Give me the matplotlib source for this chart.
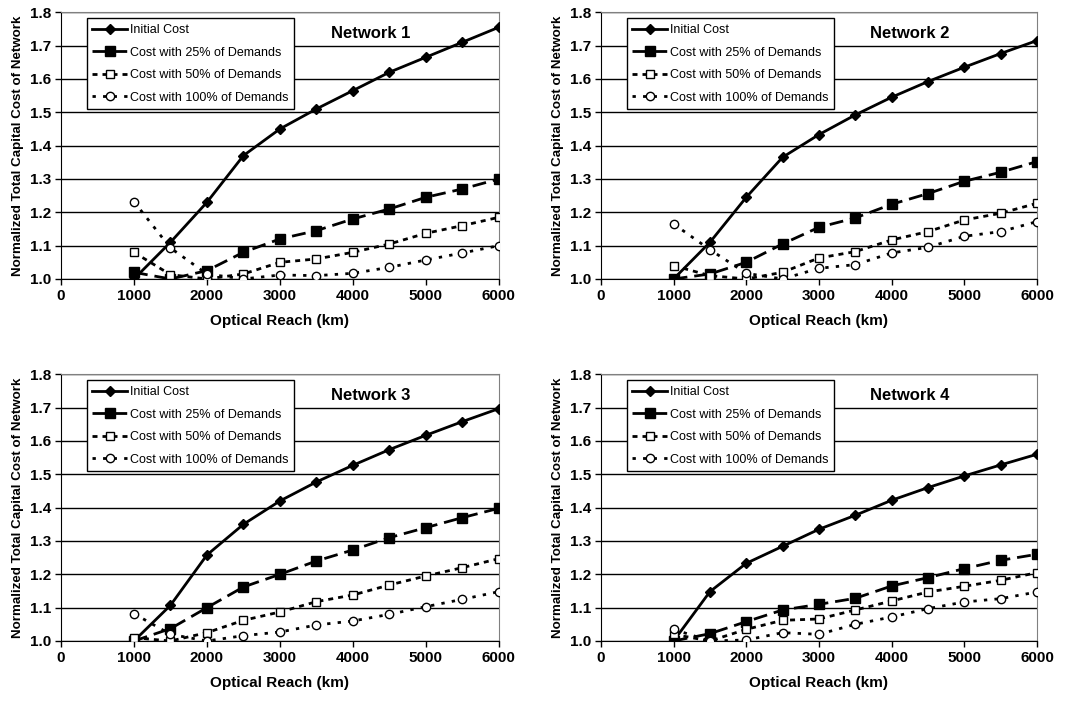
import numpy as np
import matplotlib
matplotlib.use("Agg")
from matplotlib import pyplot as plt

plt.rcParams['font.family'] = ['Liberation Sans', 'DejaVu Sans']

reach = [1000, 1500, 2000, 2500, 3000, 3500, 4000, 4500, 5000, 5500, 6000]
series_names = ["Initial Cost", "Cost with 25% of Demands",
                "Cost with 50% of Demands", "Cost with 100% of Demands"]
titles = ["Network 1", "Network 2", "Network 3", "Network 4"]

net1_initial = [1.00, 1.11, 1.23, 1.37, 1.45, 1.51, 1.565, 1.62, 1.665, 1.71, 1.755]
net1_d25 = [1.02, 1.00, 1.025, 1.08, 1.12, 1.145, 1.18, 1.21, 1.245, 1.27, 1.30]
net1_d50 = [1.08, 1.013, 1.00, 1.015, 1.05, 1.06, 1.08, 1.105, 1.137, 1.16, 1.185]
net1_d100 = [1.232, 1.093, 1.015, 1.00, 1.012, 1.01, 1.017, 1.035, 1.057, 1.078, 1.10]

net2_initial = [1.00, 1.11, 1.245, 1.365, 1.433, 1.492, 1.545, 1.592, 1.635, 1.676, 1.715]
net2_d25 = [1.00, 1.015, 1.05, 1.105, 1.155, 1.183, 1.224, 1.256, 1.293, 1.32, 1.352]
net2_d50 = [1.04, 1.01, 1.00, 1.02, 1.063, 1.082, 1.117, 1.142, 1.177, 1.197, 1.227]
net2_d100 = [1.165, 1.088, 1.017, 1.00, 1.032, 1.043, 1.078, 1.095, 1.128, 1.142, 1.172]

net3_initial = [1.00, 1.107, 1.258, 1.35, 1.42, 1.477, 1.527, 1.574, 1.617, 1.658, 1.697]
net3_d25 = [1.00, 1.037, 1.10, 1.162, 1.20, 1.24, 1.273, 1.31, 1.34, 1.37, 1.398]
net3_d50 = [1.01, 1.00, 1.025, 1.062, 1.087, 1.118, 1.138, 1.168, 1.195, 1.22, 1.247]
net3_d100 = [1.082, 1.02, 1.00, 1.016, 1.027, 1.048, 1.06, 1.08, 1.103, 1.125, 1.148]

net4_initial = [1.00, 1.148, 1.233, 1.284, 1.335, 1.377, 1.422, 1.46, 1.495, 1.528, 1.56]
net4_d25 = [1.00, 1.022, 1.058, 1.093, 1.11, 1.128, 1.165, 1.19, 1.217, 1.242, 1.26]
net4_d50 = [1.02, 1.00, 1.035, 1.062, 1.066, 1.093, 1.12, 1.147, 1.164, 1.182, 1.205]
net4_d100 = [1.035, 1.00, 1.003, 1.025, 1.02, 1.05, 1.072, 1.097, 1.117, 1.127, 1.147]

networks = [
    [net1_initial, net1_d25, net1_d50, net1_d100],
    [net2_initial, net2_d25, net2_d50, net2_d100],
    [net3_initial, net3_d25, net3_d50, net3_d100],
    [net4_initial, net4_d25, net4_d50, net4_d100],
]

styles = [
    dict(ls='-', lw=2.0, marker='D', ms=5, mfc='black', mec='black'),
    dict(ls=(0, (5, 2.5)), lw=2.0, marker='s', ms=6.5, mfc='black', mec='black'),
    dict(ls=(0, (1.8, 1.8)), lw=2.0, marker='s', ms=5.5, mfc='white', mec='black', mew=1.0),
    dict(ls=(0, (1.2, 2.6)), lw=2.0, marker='o', ms=6, mfc='white', mec='black', mew=1.0),
]

positions = [
    [0.0567, 0.6026, 0.4074, 0.380],
    [0.5590, 0.6026, 0.4056, 0.380],
    [0.0567, 0.0869, 0.4074, 0.380],
    [0.5590, 0.0869, 0.4056, 0.380],
]

fig = plt.figure(figsize=(10.75, 7.02), dpi=100)

for k in range(4):
    ax = fig.add_axes(positions[k])
    for j in range(4):
        ax.plot(reach, networks[k][j], color='black', label=series_names[j],
                zorder=3, **styles[j])
    ax.set_xlim(0, 6000)
    ax.set_ylim(1.0, 1.8)
    ax.set_xticks(np.arange(0, 6001, 1000))
    ax.set_yticks(np.arange(1.0, 1.81, 0.1))
    ax.set_yticklabels([f"{v:.1f}" for v in np.arange(1.0, 1.81, 0.1)])
    ax.yaxis.grid(True, color='black', lw=1.0)
    ax.set_axisbelow(True)
    for lab in ax.get_xticklabels() + ax.get_yticklabels():
        lab.set_fontweight('bold')
        lab.set_fontsize(11)
    ax.tick_params(axis='both', direction='out', length=4, width=1, color='black', pad=3)
    ax.spines['top'].set_color('gray')
    ax.spines['right'].set_color('gray')
    ax.set_xlabel("Optical Reach (km)", fontsize=11, fontweight='bold', labelpad=8)
    ax.set_ylabel("Normalized Total Capital Cost of Network", fontsize=9.6,
                  fontweight='bold', labelpad=4)
    ax.text(0.708, 0.921, titles[k], transform=ax.transAxes, fontsize=12,
            fontweight='bold', ha='center', va='center')
    leg = ax.legend(loc='upper left', bbox_to_anchor=(0.059, 0.977), fontsize=9,
                    frameon=True, fancybox=False, edgecolor='black', framealpha=1,
                    handlelength=2.8, handletextpad=0.2, borderpad=0.45,
                    borderaxespad=0, labelspacing=0.85, numpoints=1)
    leg.get_frame().set_linewidth(1.0)

fig.savefig("out.png", dpi=100)
